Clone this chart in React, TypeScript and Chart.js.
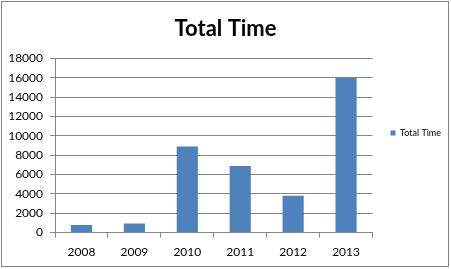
import React, { useEffect, useRef } from "react";
import { Chart, registerables } from "chart.js";

Chart.register(...registerables);

const categories = ["2008", "2009", "2010", "2011", "2012", "2013"];
const totalTime = [780, 950, 8900, 6880, 3800, 16000];
const seriesName = "Total Time";
const chartTitle = "Total Time";
const yMin = 0;
const yMax = 18000;
const yStep = 2000;

const GRID = "#868686";
const FONT = "Lato, 'Open Sans', sans-serif";

const borderPlugin = {
  id: "outerBorder",
  afterDraw(chart: any) {
    const ctx = chart.ctx;
    ctx.save();
    ctx.strokeStyle = GRID;
    ctx.lineWidth = 1;
    ctx.strokeRect(1.5, 1.5, 447, 265);
    ctx.restore();
  },
};

export default function App() {
  const ref = useRef<HTMLCanvasElement>(null);
  useEffect(() => {
    document.body.style.margin = "0";
    const chart = new Chart(ref.current!, {
      type: "bar",
      data: {
        labels: categories,
        datasets: [
          {
            label: seriesName,
            data: totalTime,
            backgroundColor: "#4F81BD",
            borderWidth: 0,
            barPercentage: 0.4,
            categoryPercentage: 1,
          },
        ],
      },
      plugins: [borderPlugin],
      options: {
        responsive: false,
        animation: false,
        devicePixelRatio: 1,
        layout: { padding: { left: 0, right: 0, top: 0, bottom: 3 } },
        plugins: {
          title: {
            display: true,
            text: chartTitle,
            color: "#000",
            font: { family: FONT, size: 22, weight: "bold" },
            padding: { top: 16, bottom: 16 },
          },
          legend: {
            display: true,
            position: "right",
            labels: {
              boxWidth: 5,
              boxHeight: 5,
              color: "#000",
              font: { family: FONT, size: 9 },
              padding: 18,
            },
          },
          tooltip: { enabled: false },
        },
        scales: {
          x: {
            grid: {
              display: true,
              drawOnChartArea: false,
              drawTicks: true,
              tickLength: 5,
              color: GRID,
            },
            border: { display: true, color: GRID },
            ticks: {
              color: "#000",
              font: { family: FONT, size: 12 },
              padding: 7,
              maxRotation: 0,
            },
          },
          y: {
            min: yMin,
            max: yMax,
            afterFit: (s: any) => {
              s.width = 55;
            },
            grid: {
              color: GRID,
              drawTicks: true,
              tickLength: 5,
            },
            border: { display: true, color: GRID },
            ticks: {
              stepSize: yStep,
              color: "#000",
              font: { family: FONT, size: 12 },
              padding: 7,
              callback: (v: any) => String(v),
            },
          },
        },
      },
    } as any);
    return () => chart.destroy();
  }, []);
  return (
    <div style={{ position: "absolute", left: 0, top: 0, width: 451, height: 269 }}>
      <canvas ref={ref} width={451} height={269} style={{ display: "block" }} />
    </div>
  );
}
